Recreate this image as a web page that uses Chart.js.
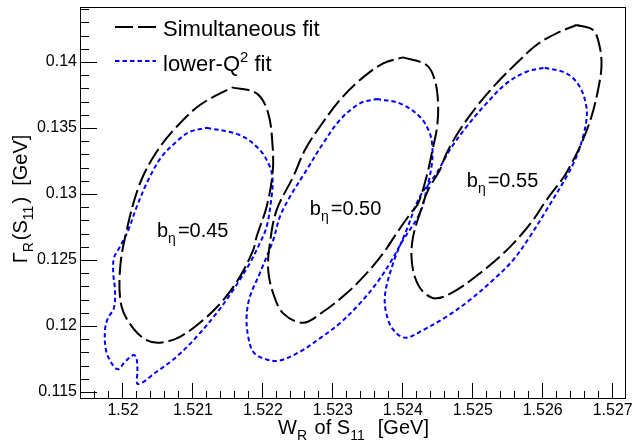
<!DOCTYPE html>
<html>
<head>
<meta charset="utf-8">
<script src="https://cdn.jsdelivr.net/npm/chart.js@4.4.0/dist/chart.umd.min.js"></script>
<style>
  html, body { margin: 0; padding: 0; background: #fff; }
  #wrap { width: 641px; height: 442px; }
</style>
</head>
<body>
<div id="wrap"><canvas id="contours" width="641" height="442"></canvas></div>
<script>
// axis ranges [GeV]
const xRange = [1.5194, 1.52719];
const yRange = [0.11455, 0.14417];
const xMajor = 0.001, xMinor = 0.0002;
const yMajor = 0.005, yMinor = 0.001;

const seriesNames = ['Simultaneous fit', 'lower-Q\u00b2 fit'];
const bEtaValues = ['0.45', '0.50', '0.55'];

// contour points: [W_R, Gamma_R]
const simFit045 = [
  [1.521553, 0.138083], [1.521910, 0.137629], [1.522076, 0.136114], [1.522139, 0.133583],
  [1.522139, 0.131568], [1.522053, 0.129038], [1.521910, 0.126765], [1.521861, 0.125758],
  [1.521671, 0.123735], [1.521433, 0.121970], [1.521147, 0.120455], [1.520814, 0.119189],
  [1.520529, 0.118735], [1.520339, 0.118939], [1.520147, 0.119826], [1.519981, 0.121462],
  [1.519957, 0.124242], [1.520053, 0.127273], [1.520243, 0.130811], [1.520481, 0.133205],
  [1.520767, 0.135098], [1.521100, 0.136742]
];
const simFit050 = [
  [1.524004, 0.140356], [1.524339, 0.139773], [1.524457, 0.138636], [1.524504, 0.136871],
  [1.524490, 0.135098], [1.524424, 0.133333], [1.524339, 0.131311], [1.524219, 0.129295],
  [1.524114, 0.128561], [1.523910, 0.127023], [1.523719, 0.125508], [1.523481, 0.123992],
  [1.523196, 0.122477], [1.522861, 0.121083], [1.522576, 0.120250], [1.522290, 0.120962],
  [1.522147, 0.122477], [1.522076, 0.124242], [1.522100, 0.126265], [1.522196, 0.128788],
  [1.522433, 0.131311], [1.522600, 0.133333], [1.522814, 0.135098], [1.523100, 0.137121],
  [1.523386, 0.138636], [1.523719, 0.139902]
];
const simFit055 = [
  [1.526481, 0.142803], [1.526719, 0.142424], [1.526814, 0.141159], [1.526839, 0.139644],
  [1.526790, 0.137879], [1.526696, 0.135856], [1.526553, 0.133841], [1.526386, 0.132068],
  [1.526300, 0.131288], [1.526053, 0.129545], [1.525861, 0.128030], [1.525624, 0.126515],
  [1.525386, 0.125250], [1.525100, 0.123992], [1.524767, 0.122727], [1.524481, 0.122098],
  [1.524290, 0.122598], [1.524171, 0.123735], [1.524124, 0.125250], [1.524147, 0.126765],
  [1.524243, 0.128538], [1.524361, 0.130303], [1.524529, 0.131818], [1.524624, 0.133083],
  [1.524814, 0.134848], [1.525053, 0.136614], [1.525339, 0.138386], [1.525624, 0.139902],
  [1.525910, 0.141288], [1.526196, 0.142174]
];
const lowQ045 = [
  [1.521196, 0.135023], [1.521671, 0.134470], [1.521957, 0.133333], [1.522100, 0.132068],
  [1.522139, 0.131061], [1.522124, 0.129795], [1.522053, 0.127523], [1.521943, 0.126136],
  [1.521814, 0.124773], [1.521576, 0.122727], [1.521339, 0.120985], [1.521053, 0.119189],
  [1.520767, 0.117674], [1.520481, 0.116538], [1.520214, 0.115606], [1.520207, 0.116667],
  [1.520193, 0.117576], [1.520157, 0.117803], [1.520100, 0.117652], [1.520014, 0.117197],
  [1.519929, 0.116720], [1.519839, 0.117174], [1.519757, 0.118182], [1.519743, 0.119697],
  [1.519786, 0.120606], [1.519871, 0.121364], [1.519886, 0.122727], [1.519861, 0.123992],
  [1.519871, 0.125152], [1.519957, 0.126008], [1.520076, 0.127273], [1.520196, 0.129038],
  [1.520361, 0.131061], [1.520553, 0.132826], [1.520790, 0.134091], [1.520957, 0.134720]
];
const lowQ050 = [
  [1.523624, 0.137197], [1.523957, 0.136871], [1.524243, 0.135856], [1.524386, 0.134598],
  [1.524424, 0.133333], [1.524410, 0.132068], [1.524339, 0.130303], [1.524243, 0.128538],
  [1.524004, 0.126515], [1.523814, 0.124750], [1.523624, 0.123235], [1.523386, 0.121720],
  [1.523100, 0.120205], [1.522814, 0.119068], [1.522529, 0.118053], [1.522219, 0.117371],
  [1.522004, 0.117553], [1.521861, 0.118053], [1.521790, 0.119189], [1.521767, 0.120705],
  [1.521814, 0.122220], [1.521957, 0.124015], [1.522147, 0.126515], [1.522243, 0.128280],
  [1.522386, 0.129795], [1.522624, 0.131818], [1.522861, 0.133841], [1.523100, 0.135606],
  [1.523386, 0.136871]
];
const lowQ055 = [
  [1.526029, 0.139568], [1.526339, 0.139144], [1.526529, 0.138129], [1.526624, 0.136614],
  [1.526624, 0.135606], [1.526576, 0.134341], [1.526481, 0.132826], [1.526339, 0.131311],
  [1.526053, 0.128788], [1.525814, 0.126765], [1.525576, 0.125000], [1.525290, 0.123485],
  [1.524957, 0.121970], [1.524624, 0.120705], [1.524290, 0.119697], [1.524053, 0.119114],
  [1.523910, 0.119447], [1.523790, 0.120455], [1.523743, 0.122220], [1.523861, 0.124750],
  [1.524053, 0.127273], [1.524243, 0.129795], [1.524481, 0.131568], [1.524671, 0.133333],
  [1.524910, 0.135098], [1.525196, 0.136871], [1.525481, 0.138386], [1.525767, 0.139265]
];

const FONT = '"Liberation Sans", Arial, Helvetica, sans-serif';
const simStyle = { color: '#000000', dash: [18, 5] };
const lowStyle = { color: '#0000ff', dash: [4.5, 3] };

function closedLoop(points) {
  const pts = points.map(p => ({ x: p[0], y: p[1] }));
  pts.push({ x: points[0][0], y: points[0][1] });
  return pts;
}

function isMajor(v, step) {
  const r = v / step;
  return Math.abs(r - Math.round(r)) < 1e-6;
}

function contour(label, points, style) {
  return {
    label: label,
    data: closedLoop(points),
    showLine: true,
    borderColor: style.color,
    borderDash: style.dash,
    borderWidth: 2,
    pointRadius: 0,
    tension: 0.35,
    fill: false
  };
}

// draws text pieces with ROOT-like sub/superscripts, returns width
function richText(ctx, parts, x, y, size, draw) {
  let cx = x;
  parts.forEach(p => {
    const kind = p[1] || 'n';
    const s = kind === 'n' ? size : Math.round(size * 0.7);
    const dy = kind === 'sub' ? size * 0.3 : (kind === 'sup' ? -size * 0.42 : 0);
    ctx.font = s + 'px ' + FONT;
    if (draw) ctx.fillText(p[0], cx, y + dy);
    cx += ctx.measureText(p[0]).width + (kind === 'sub' ? 2 : 0);
  });
  return cx - x;
}

const rootStyle = {
  id: 'rootStyle',
  beforeDraw(chart) {
    const ctx = chart.ctx;
    ctx.save();
    ctx.fillStyle = '#ffffff';
    ctx.fillRect(0, 0, chart.width, chart.height);
    ctx.restore();
  },
  afterDraw(chart) {
    const { ctx, chartArea: a, scales: { x, y } } = chart;
    ctx.save();
    ctx.strokeStyle = '#000';
    ctx.fillStyle = '#000';
    ctx.lineWidth = 1;
    ctx.setLineDash([]);

    // frame
    ctx.strokeRect(a.left - 0.5, a.top + 0.5, a.right - a.left, a.bottom - a.top);

    // ticks drawn inward
    ctx.beginPath();
    x.ticks.forEach(t => {
      const px = Math.round(x.getPixelForValue(t.value)) - 0.5;
      const len = isMajor(t.value, xMajor) ? 15 : 7;
      ctx.moveTo(px, a.bottom);
      ctx.lineTo(px, a.bottom - len);
    });
    y.ticks.forEach(t => {
      const py = Math.round(y.getPixelForValue(t.value)) + 0.5;
      const len = isMajor(t.value, yMajor) ? 16 : 8;
      ctx.moveTo(a.left, py);
      ctx.lineTo(a.left + len, py);
    });
    ctx.stroke();

    // b_eta labels, anchored in data coordinates
    const anchors = [[1.520486, 0.126742], [1.522671, 0.128409], [1.524914, 0.130530]];
    ctx.textBaseline = 'alphabetic';
    ctx.textAlign = 'left';
    bEtaValues.forEach((v, i) => {
      const px = x.getPixelForValue(anchors[i][0]);
      const py = y.getPixelForValue(anchors[i][1]);
      richText(ctx, [['b'], ['\u03b7', 'sub'], ['=' + v]], px, py, 20, true);
    });

    // legend
    const styles = [simStyle, lowStyle];
    const rows = [27, 61];
    ctx.lineWidth = 2;
    styles.forEach((s, i) => {
      ctx.strokeStyle = s.color;
      ctx.setLineDash(s.dash);
      ctx.beginPath();
      ctx.moveTo(115, rows[i]);
      ctx.lineTo(156, rows[i]);
      ctx.stroke();
    });
    ctx.setLineDash([]);
    richText(ctx, [[seriesNames[0]]], 163, 36, 22, true);
    richText(ctx, [['lower-Q'], ['2', 'sup'], [' fit']], 163, 71, 22, true);

    // axis titles
    const xt = [['W'], ['R', 'sub'], [' of S'], ['11', 'sub'], ['  [GeV]']];
    const xw = richText(ctx, xt, 0, 0, 20, false);
    richText(ctx, xt, (a.left + a.right) / 2 - xw / 2, 434, 20, true);

    const yt = [['\u0393'], ['R', 'sub'], ['(S'], ['11', 'sub'], [')'], ['  [GeV]']];
    const yw = richText(ctx, yt, 0, 0, 20, false);
    ctx.translate(27, 199);
    ctx.rotate(-Math.PI / 2);
    richText(ctx, yt, -yw / 2, 0, 20, true);
    ctx.restore();
  }
};

const ctx = document.getElementById('contours').getContext('2d');
new Chart(ctx, {
  type: 'scatter',
  data: {
    datasets: [
      contour(seriesNames[0] + ' 0.45', simFit045, simStyle),
      contour(seriesNames[0] + ' 0.50', simFit050, simStyle),
      contour(seriesNames[0] + ' 0.55', simFit055, simStyle),
      contour(seriesNames[1] + ' 0.45', lowQ045, lowStyle),
      contour(seriesNames[1] + ' 0.50', lowQ050, lowStyle),
      contour(seriesNames[1] + ' 0.55', lowQ055, lowStyle)
    ]
  },
  options: {
    responsive: false,
    animation: false,
    layout: { padding: { top: 7, right: 15, left: 0, bottom: 0 } },
    plugins: { legend: { display: false }, tooltip: { enabled: false } },
    scales: {
      x: {
        type: 'linear',
        min: xRange[0],
        max: xRange[1],
        afterFit: s => { s.height = 44; s.paddingLeft = 0; s.paddingRight = 0; },
        grid: { display: false, drawTicks: false },
        border: { display: false },
        ticks: {
          stepSize: xMinor,
          autoSkip: false,
          maxRotation: 0,
          includeBounds: false,
          padding: 3,
          color: '#000',
          font: { family: FONT, size: 16 },
          callback: v => isMajor(v, xMajor) ? String(Number(v.toFixed(3))) : ''
        }
      },
      y: {
        type: 'linear',
        min: yRange[0],
        max: yRange[1],
        afterFit: s => { s.width = 81; s.paddingTop = 0; s.paddingBottom = 0; },
        grid: { display: false, drawTicks: false },
        border: { display: false },
        ticks: {
          stepSize: yMinor,
          autoSkip: false,
          includeBounds: false,
          padding: 4,
          color: '#000',
          font: { family: FONT, size: 16 },
          callback: v => isMajor(v, yMajor) ? String(Number(v.toFixed(3))) : ''
        }
      }
    }
  },
  plugins: [rootStyle]
});
</script>
</body>
</html>
